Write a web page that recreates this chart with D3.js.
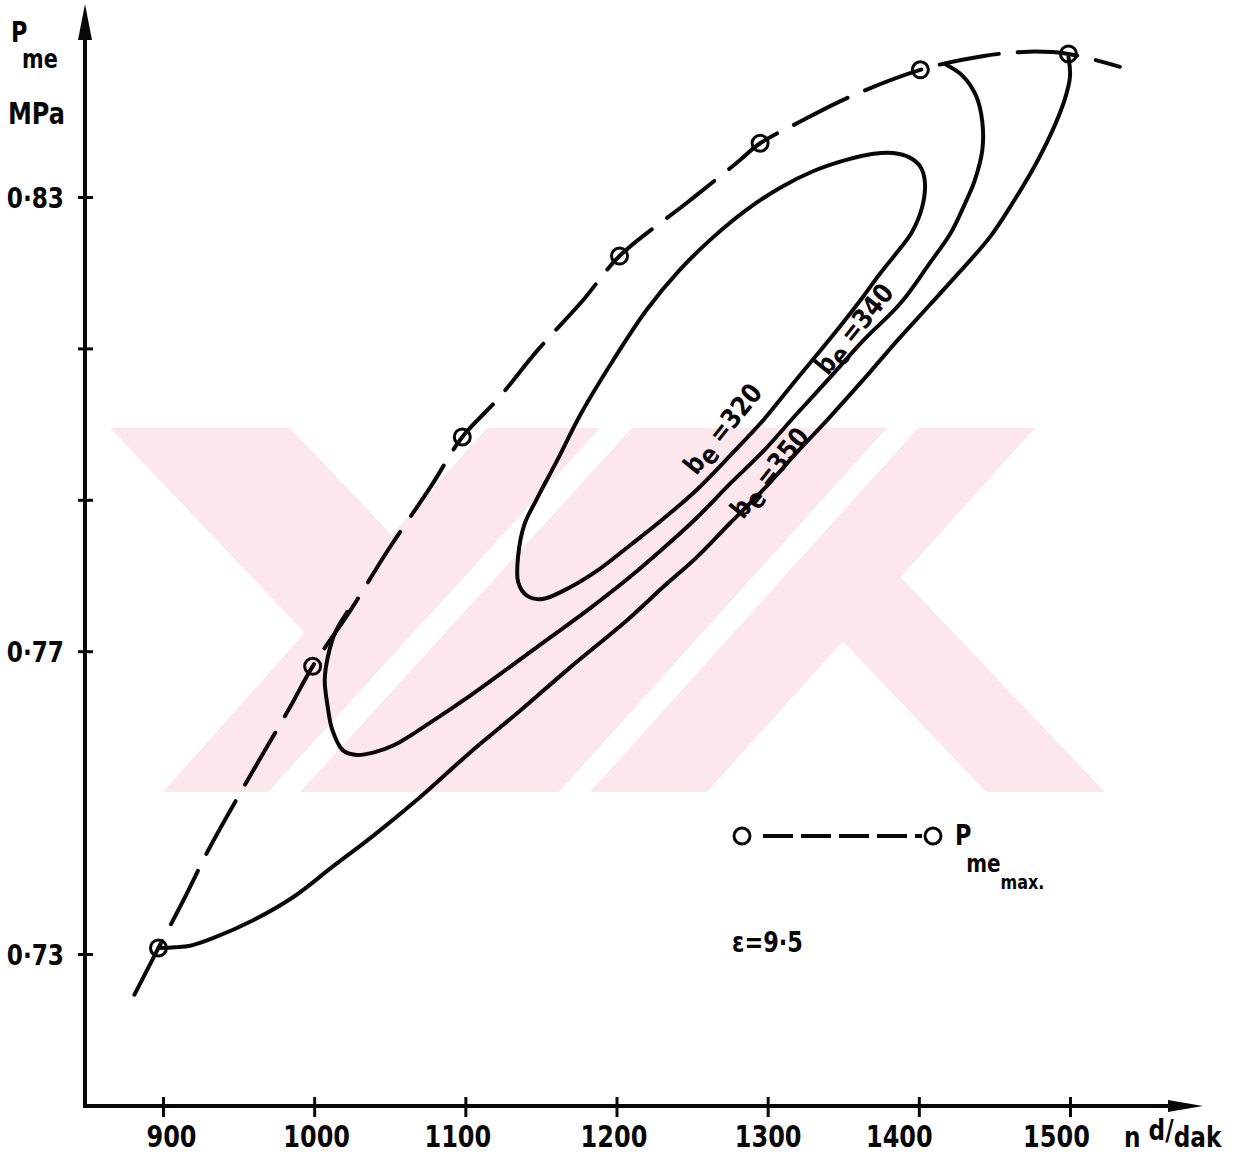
<!DOCTYPE html>
<html>
<head>
<meta charset="utf-8">
<script src="https://cdn.jsdelivr.net/npm/d3@7"></script>
<style>
  html, body { margin: 0; padding: 0; background: #fff; }
  svg { display: block; }
  .lbl { font-family: 'DejaVu Sans', sans-serif; font-weight: bold; fill: #0a0708; }
</style>
</head>
<body>
<svg id="chart" width="1253" height="1154"></svg>
<script>
// Axis ticks
const speedTicks = [900, 1000, 1100, 1200, 1300, 1400, 1500];
const pressureTicks = [0.73, 0.77, 0.79, 0.81, 0.83];
const pressureTickLabels = ["0·73", "0·77", "", "", "0·83"];

// Maximum mean effective pressure at each speed (MPa)
const pmeMaxSpeed = [897, 999, 1098, 1202, 1295, 1401, 1499];
const pmeMaxValue = [0.7308, 0.7680, 0.7983, 0.8222, 0.8371, 0.8468, 0.8489];

// Faired full-load envelope through the maxima
const envelopeSpeed = [880, 897, 913, 931, 959, 984, 999, 1024, 1049, 1077, 1098, 1121, 1148, 1178, 1202, 1247, 1280, 1295, 1321, 1354, 1401, 1442, 1473, 1499, 1533];
const envelopePme = [0.7242, 0.7308, 0.7369, 0.7441, 0.7540, 0.7626, 0.7680, 0.7754, 0.7834, 0.7917, 0.7983, 0.8032, 0.8098, 0.8164, 0.8222, 0.8293, 0.8346, 0.8371, 0.8399, 0.8432, 0.8468, 0.8486, 0.8492, 0.8489, 0.8472];

// Specific fuel consumption contour be = 320 (closed loop)
const be320Speed = [1370, 1383, 1394, 1401, 1404, 1402, 1395, 1386, 1374, 1363, 1341, 1319, 1297, 1275, 1253, 1231, 1209, 1187, 1167, 1151, 1141, 1135, 1135, 1139, 1147, 1161, 1176, 1198, 1220, 1242, 1264, 1286, 1308, 1330, 1352];
const be320Pme = [0.8357, 0.8358, 0.8352, 0.8340, 0.8320, 0.8285, 0.8252, 0.8228, 0.8198, 0.8168, 0.8112, 0.8059, 0.8005, 0.7958, 0.7913, 0.7875, 0.7840, 0.7806, 0.7782, 0.7769, 0.7773, 0.7791, 0.7827, 0.7867, 0.7900, 0.7953, 0.8012, 0.8085, 0.8151, 0.8204, 0.8247, 0.8283, 0.8312, 0.8334, 0.8349];

// Contour be = 340 (ends on the envelope)
const be340Speed = [1417, 1429, 1438, 1442, 1442, 1437, 1430, 1421, 1407, 1388, 1363, 1341, 1319, 1297, 1275, 1253, 1231, 1207, 1182, 1156, 1130, 1103, 1077, 1053, 1039, 1028, 1019, 1012, 1009, 1007, 1009, 1014, 1022];
const be340Pme = [0.8476, 0.8460, 0.8433, 0.8399, 0.8362, 0.8322, 0.8289, 0.8252, 0.8212, 0.8160, 0.8110, 0.8061, 0.8013, 0.7964, 0.7921, 0.7876, 0.7836, 0.7795, 0.7756, 0.7718, 0.7680, 0.7641, 0.7606, 0.7576, 0.7566, 0.7563, 0.7569, 0.7596, 0.7626, 0.7662, 0.7692, 0.7725, 0.7752];

// Contour be = 350 (ends on the envelope)
const be350Speed = [897, 908, 918, 933, 960, 986, 1012, 1039, 1070, 1103, 1136, 1169, 1207, 1231, 1253, 1275, 1297, 1319, 1341, 1363, 1386, 1407, 1427, 1447, 1462, 1478, 1490, 1497, 1500, 1499];
const be350Pme = [0.7308, 0.7309, 0.7311, 0.7321, 0.7345, 0.7375, 0.7415, 0.7456, 0.7507, 0.7566, 0.7621, 0.7678, 0.7741, 0.7785, 0.7824, 0.7869, 0.7913, 0.7962, 0.8009, 0.8058, 0.8111, 0.8157, 0.8201, 0.8247, 0.8292, 0.8346, 0.8395, 0.8432, 0.8459, 0.8485];

// Hand-lettered tick labels sit slightly off their ticks
const speedLabelShift = [8, 2, -8, -3, 0, -20, -14];

const zip = (a, b) => a.map((n, i) => ({ n, p: b[i] }));

const svg = d3.select("#chart");
const ink = "#0a0708";
const narrow = 0.8; // horizontal squeeze for the stencil-like lettering

const x = d3.scaleLinear().domain([900, 1500]).range([163, 1070]);
const y = d3.scaleLinear().domain([0.73, 0.83]).range([954, 197]);

const axisX0 = 85, axisY0 = 1106;

// pale background emblem
const poly = pts => pts.map(p => p.join(",")).join(" ");
const wm = svg.append("g").attr("fill", "#fce8ec");
[
  [[110, 428], [290, 428], [636, 792], [456, 792]],
  [[487, 428], [1035, 428], [707, 792], [163, 792]],
  [[640, 428], [759, 428], [1105, 792], [986, 792]]
].forEach(pts => wm.append("polygon").attr("points", poly(pts)));
[
  [[600, 428], [632, 428], [300, 792], [268, 792]],
  [[887, 428], [918, 428], [590, 792], [559, 792]]
].forEach(pts => wm.append("polygon").attr("fill", "#fff").attr("points", poly(pts)));

// axes
const axes = svg.append("g").attr("stroke", ink).attr("fill", "none").attr("stroke-width", 4);
axes.append("line").attr("x1", axisX0).attr("y1", axisY0).attr("x2", axisX0).attr("y2", 30);
axes.append("line").attr("x1", axisX0 - 2).attr("y1", axisY0).attr("x2", 1175).attr("y2", axisY0);
svg.append("polygon").attr("fill", ink)
  .attr("points", `${axisX0},4 ${axisX0 - 7},40 ${axisX0 + 7},40`);
svg.append("polygon").attr("fill", ink)
  .attr("points", `1203,${axisY0} 1168,${axisY0 - 6} 1168,${axisY0 + 6}`);

// x ticks
const gx = svg.append("g").attr("transform", `translate(0,${axisY0})`)
  .call(d3.axisBottom(x).tickValues(speedTicks).tickSize(11).tickFormat(d3.format("d")));
gx.select(".domain").remove();
gx.selectAll(".tick line").attr("y1", -9).attr("stroke", ink).attr("stroke-width", 3);
gx.selectAll(".tick text").attr("class", "lbl").attr("y", 41).attr("dy", null)
  .attr("x", (d, i) => speedLabelShift[i] / narrow)
  .attr("transform", `scale(${narrow},1)`).style("font-size", "30px");

// y ticks
const gy = svg.append("g").attr("transform", `translate(${axisX0},0)`)
  .call(d3.axisLeft(y).tickValues(pressureTicks).tickSize(7)
    .tickFormat((d, i) => pressureTickLabels[i]));
gy.select(".domain").remove();
gy.selectAll(".tick line").attr("x2", -7).attr("x1", 8).attr("stroke", ink).attr("stroke-width", 3);
gy.selectAll(".tick text").attr("class", "lbl").attr("x", -21 / narrow).attr("dy", "0.36em")
  .attr("transform", `scale(${narrow},1)`).style("font-size", "29px");

// squeezed text placed at (px, py)
function narrowText(px, py, size) {
  return svg.append("g").attr("transform", `translate(${px},${py}) scale(${narrow},1)`)
    .append("text").attr("class", "lbl").style("font-size", size + "px");
}

// axis titles
narrowText(11, 42, 28).text("P");
narrowText(22, 68, 26).text("me");
narrowText(8, 124, 30).text("MPa");

const xt = narrowText(1124, 1147, 29);
xt.append("tspan").text("n ");
xt.append("tspan").attr("dy", -7).text("d/");
xt.append("tspan").attr("dy", 7).text("dak");

// curves
const line = d3.line().x(d => x(d.n)).y(d => y(d.p)).curve(d3.curveCatmullRom.alpha(0.5));
const loop = d3.line().x(d => x(d.n)).y(d => y(d.p)).curve(d3.curveCatmullRomClosed.alpha(0.5));

const curves = svg.append("g").attr("fill", "none").attr("stroke", ink)
  .attr("stroke-width", 4).attr("stroke-linecap", "round").attr("stroke-linejoin", "round");

curves.append("path").attr("d", line(zip(envelopeSpeed, envelopePme)))
  .attr("stroke-dasharray", "60 19").attr("stroke-dashoffset", -4);
curves.append("path").attr("d", loop(zip(be320Speed, be320Pme)));
curves.append("path").attr("d", line(zip(be340Speed, be340Pme)));
curves.append("path").attr("d", line(zip(be350Speed, be350Pme)));

// measured maxima
svg.append("g").selectAll("circle").data(zip(pmeMaxSpeed, pmeMaxValue)).join("circle")
  .attr("cx", d => x(d.n)).attr("cy", d => y(d.p)).attr("r", 8)
  .attr("fill", "none").attr("stroke", ink).attr("stroke-width", 3);

// contour labels, written along the curves
function contourLabel(n, p, value) {
  const t = svg.append("g")
    .attr("transform", `translate(${x(n)},${y(p)}) rotate(-51) scale(0.85,1)`)
    .append("text").attr("class", "lbl").style("font-size", "27px")
    .attr("text-anchor", "middle");
  t.append("tspan").text("b");
  t.append("tspan").attr("dy", 6).text("e");
  t.append("tspan").attr("dy", -6).text(" =" + value);
}
contourLabel(1275, 0.7986, 320);
contourLabel(1362, 0.8118, 340);
contourLabel(1306, 0.7928, 350);

// legend
const lg = svg.append("g");
lg.append("circle").attr("cx", 742).attr("cy", 836).attr("r", 8)
  .attr("fill", "none").attr("stroke", ink).attr("stroke-width", 3);
lg.append("circle").attr("cx", 933).attr("cy", 836).attr("r", 8)
  .attr("fill", "none").attr("stroke", ink).attr("stroke-width", 3);
lg.append("line").attr("x1", 763).attr("x2", 922).attr("y1", 836).attr("y2", 836)
  .attr("stroke", ink).attr("stroke-width", 4).attr("stroke-dasharray", "30 8");
const lt = narrowText(955, 845, 28);
lt.append("tspan").text("P");
lt.append("tspan").attr("x", 14).attr("y", 27).style("font-size", "25px").text("me");
lt.append("tspan").attr("y", 44).style("font-size", "20px").text("max.");
narrowText(732, 952, 28).text("ε=9·5");
</script>
</body>
</html>
